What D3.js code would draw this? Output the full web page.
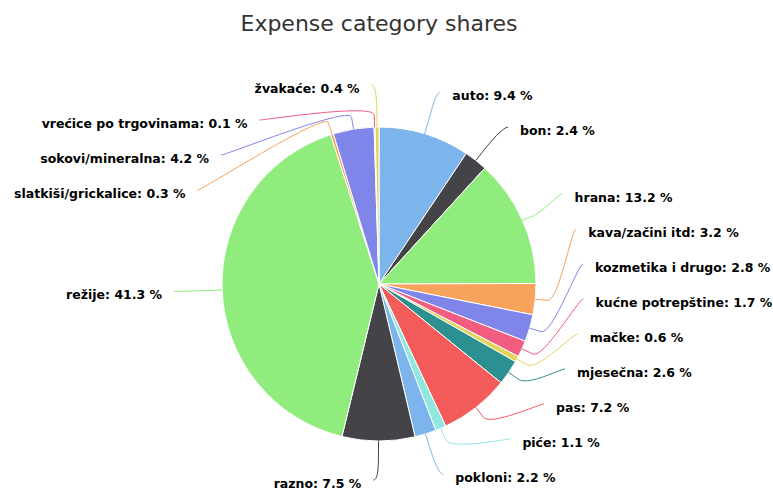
<!DOCTYPE html>
<html>
<head>
<meta charset="utf-8">
<script src="https://cdn.jsdelivr.net/npm/d3@7"></script>
<style>
  html, body { margin: 0; padding: 0; background: #ffffff; }
  svg { display: block; }
</style>
</head>
<body>
<svg id="chart" width="773" height="492"></svg>
<script>
// Expense categories and their share of the total, in percent
const categories = [
  "auto", "bon", "hrana", "kava/začini itd", "kozmetika i drugo",
  "kućne potrepštine", "mačke", "mjesečna", "pas", "piće", "pokloni",
  "razno", "režije", "slatkiši/grickalice", "sokovi/mineralna",
  "vrećice po trgovinama", "žvakaće"
];
const shares = [9.4, 2.4, 13.2, 3.2, 2.8, 1.7, 0.6, 2.6, 7.2, 1.1, 2.2, 7.5, 41.3, 0.3, 4.2, 0.1, 0.4];
const palette = ["#7cb5ec", "#434348", "#90ed7d", "#f7a35c", "#8085e9",
                 "#f15c80", "#e4d354", "#2b908f", "#f45b5b", "#91e8e1"];
const chartTitle = "Expense category shares";

// Geometry
const W = 773, H = 492;
const cx = 379, cy = 284, r = 157;
const labelR = 200;          // radius on which labels sit
const connPad = 5;           // gap between label ring and connector start
const textGap = 12;          // connector start to label text
const breakOffset = 12;      // where the soft connector leaves the radial line
const rowH = 35;             // vertical space reserved per label
const labelTop = 85;
const labelBottom = { left: 480, right: 474 };

const svg = d3.select("#chart");

svg.append("text")
  .attr("x", cx).attr("y", 31)
  .attr("text-anchor", "middle")
  .attr("font-family", "DejaVu Sans, sans-serif")
  .attr("font-size", 22)
  .attr("fill", "#333333")
  .text(chartTitle);

const color = d3.scaleOrdinal().domain(d3.range(categories.length)).range(palette);

const pie = d3.pie().sort(null).value(d => d).startAngle(0).endAngle(2 * Math.PI);
const arcs = pie(shares);
const arc = d3.arc().innerRadius(0).outerRadius(r);

const g = svg.append("g").attr("transform", `translate(${cx},${cy})`);
g.selectAll("path.slice")
  .data(arcs)
  .join("path")
  .attr("class", "slice")
  .attr("d", arc)
  .attr("fill", (d, i) => color(i))
  .attr("stroke", "#ffffff")
  .attr("stroke-width", 1)
  .attr("stroke-linejoin", "round");

// Label layout: natural position on the label ring, then spread per side
const labels = arcs.map((d, i) => {
  const a = (d.startAngle + d.endAngle) / 2;
  return {
    i, a,
    sin: Math.sin(a), cos: -Math.cos(a),
    left: a > Math.PI,
    natural: cy - Math.cos(a) * labelR,
    text: `${categories[i]}: ${d3.format(".1f")(shares[i])} %`
  };
});

function distribute(items, lo, hi) {
  items.sort((p, q) => p.natural - q.natural);
  let boxes = items.map(it => ({ targets: [it.natural], size: rowH, items: [it] }));
  let overlapping = true;
  while (overlapping) {
    boxes.forEach(b => {
      const t = (d3.min(b.targets) + d3.max(b.targets)) / 2;
      let p = t - (b.size - rowH) / 2;
      p = Math.min(p, hi - (b.size - rowH));
      p = Math.max(p, lo);
      b.pos = p;
    });
    overlapping = false;
    for (let k = boxes.length - 1; k > 0; k--) {
      const a = boxes[k - 1], b = boxes[k];
      if (a.pos + a.size > b.pos + 1e-9) {
        a.size += b.size;
        a.targets = a.targets.concat(b.targets);
        a.items = a.items.concat(b.items);
        if (a.pos + a.size - rowH > hi) a.pos = hi - (a.size - rowH);
        boxes.splice(k, 1);
        overlapping = true;
      }
    }
  }
  boxes.forEach(b => b.items.forEach((it, k) => { it.y = b.pos + k * rowH; }));
}

const sides = { left: labels.filter(l => l.left), right: labels.filter(l => !l.left) };
distribute(sides.left, labelTop, labelBottom.left);
distribute(sides.right, labelTop, labelBottom.right);

function getX(y, left) {
  const dy = Math.max(-labelR, Math.min(labelR, y - cy));
  const dx = Math.sqrt(labelR * labelR - dy * dy);
  return cx + (left ? -1 : 1) * (dx + connPad);
}

labels.forEach(l => {
  const hi = l.left ? labelBottom.left : labelBottom.right;
  const edge = l.y < labelTop + 2 || l.y > hi - 2;
  if (edge) {
    // clamped labels keep the horizontal offset of their natural spot
    l.x = cx + l.sin * labelR + (l.left ? -connPad : connPad);
  } else {
    l.x = getX(l.y, l.left);
  }
});

// Soft connectors
const connectors = svg.append("g");
labels.forEach(l => {
  const tx = cx + l.sin * r, ty = cy + l.cos * r;
  const bx = cx + l.sin * (r + breakOffset), by = cy + l.cos * (r + breakOffset);
  const p = d3.path();
  p.moveTo(l.x, l.y);
  p.bezierCurveTo(l.x + (l.left ? 5 : -5), l.y, 2 * bx - tx, 2 * by - ty, bx, by);
  p.lineTo(tx, ty);
  connectors.append("path")
    .attr("d", p.toString())
    .attr("fill", "none")
    .attr("stroke", color(l.i))
    .attr("stroke-width", 1);
});

svg.append("g").selectAll("text")
  .data(labels)
  .join("text")
  .attr("x", d => d.left ? d.x - textGap : d.x + textGap)
  .attr("y", d => d.y + 7.5)
  .attr("text-anchor", d => d.left ? "end" : "start")
  .attr("font-family", "DejaVu Sans, sans-serif")
  .attr("font-size", 12.5)
  .attr("font-weight", "bold")
  .attr("fill", "#000000")
  .attr("stroke", "#ffffff")
  .attr("stroke-width", 2)
  .attr("stroke-linejoin", "round")
  .attr("paint-order", "stroke")
  .text(d => d.text);
</script>
</body>
</html>
